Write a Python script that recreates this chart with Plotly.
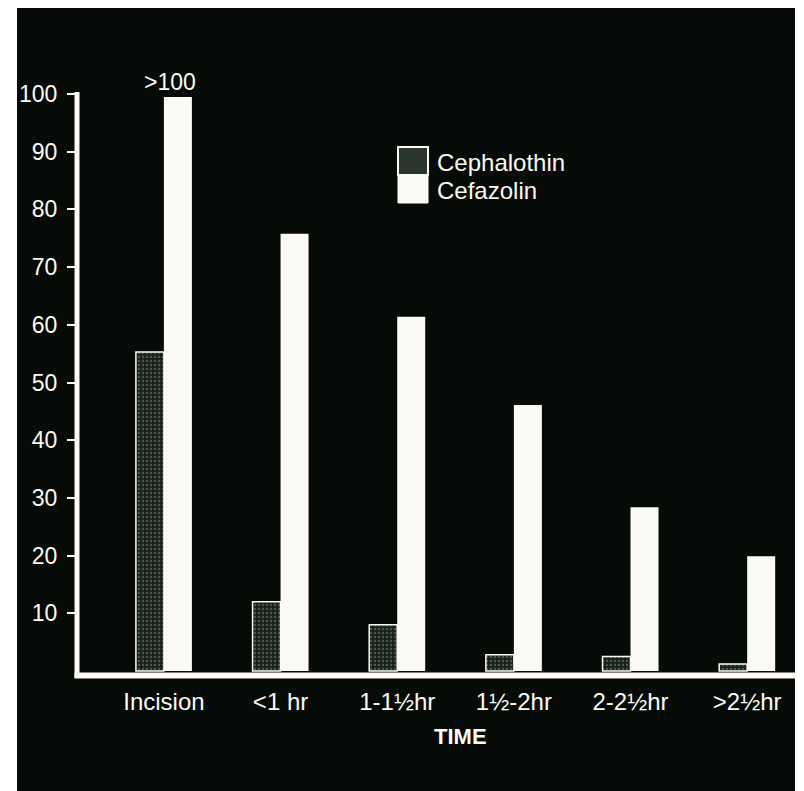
import plotly.graph_objects as go

categories = ["Incision", "<1 hr", "1-1½hr", "1½-2hr", "2-2½hr", ">2½hr"]
tick_text = ["Incision", "&lt;1 hr", "1-1½hr", "1½-2hr", "2-2½hr", "&gt;2½hr"]
cephalothin = [55.3, 12.0, 8.0, 2.8, 2.5, 1.2]
cefazolin = [99.5, 75.8, 61.4, 46.1, 28.4, 19.9]
y_ticks = [10, 20, 30, 40, 50, 60, 70, 80, 90, 100]

W, H = 804, 791
L, R, T, B = 77, 9, 83, 118
PW, PH = W - L - R, H - T - B
BG = "#070b08"
WHITE = "#fbfaf4"
FONT = "Liberation Sans, Arial, Helvetica, sans-serif"

def px(xp):
    return (xp - L) / PW

def py(yp):
    return (H - B - yp) / PH

fig = go.Figure()
fig.add_trace(go.Bar(
    name="Cephalothin", x=categories, y=cephalothin,
    marker=dict(color="#16211a",
                pattern=dict(shape=".", size=4, solidity=0.3,
                             fgcolor="#7d8a80", bgcolor="#16211a"),
                line=dict(color=WHITE, width=1.5)),
    showlegend=False,
))
fig.add_trace(go.Bar(
    name="Cefazolin", x=categories, y=cefazolin,
    marker=dict(color=WHITE, line=dict(width=0)),
    showlegend=False,
))

shapes = [
    dict(type="rect", xref="paper", yref="paper", layer="below",
         x0=px(17), x1=px(800), y0=py(795), y1=py(8),
         fillcolor=BG, line=dict(width=0)),
    dict(type="line", xref="paper", yref="paper",
         x0=0, x1=0, y0=py(678), y1=py(92),
         line=dict(color=WHITE, width=5)),
    dict(type="line", xref="paper", yref="paper",
         x0=px(74.5), x1=px(800), y0=py(675.5), y1=py(675.5),
         line=dict(color=WHITE, width=6)),
    dict(type="rect", xref="paper", yref="paper",
         x0=px(398), x1=px(428), y0=py(175), y1=py(147),
         fillcolor="#2a352e", line=dict(color=WHITE, width=2)),
    dict(type="rect", xref="paper", yref="paper",
         x0=px(398), x1=px(428), y0=py(203), y1=py(175),
         fillcolor=WHITE, line=dict(color=WHITE, width=1)),
    dict(type="rect", xref="paper", yref="paper", layer="above",
         x0=px(795), x1=px(806), y0=py(795), y1=py(-2),
         fillcolor="white", line=dict(width=0)),
]

annotations = [
    dict(text="&gt;100", xref="paper", yref="paper", x=px(170), y=py(82),
         showarrow=False, font=dict(size=23, color=WHITE, family=FONT),
         xanchor="center", yanchor="middle"),
    dict(text="Cephalothin", xref="paper", yref="paper", x=px(435), y=py(162),
         showarrow=False, font=dict(size=24, color=WHITE, family=FONT),
         xanchor="left", yanchor="middle"),
    dict(text="Cefazolin", xref="paper", yref="paper", x=px(435), y=py(190),
         showarrow=False, font=dict(size=24, color=WHITE, family=FONT),
         xanchor="left", yanchor="middle"),
    dict(text="<b>TIME</b>", xref="paper", yref="paper", x=px(460), y=py(736),
         showarrow=False, font=dict(size=22, color=WHITE, family=FONT),
         xanchor="center", yanchor="middle"),
]

zero_px, scale = 671.0, 5.77
ymin = -(H - B - zero_px) / scale
ymax = (zero_px - T) / scale

fig.update_layout(
    width=W, height=H,
    margin=dict(l=L, r=R, t=T, b=B, pad=0),
    paper_bgcolor="white",
    plot_bgcolor=BG,
    barmode="group",
    bargap=0.52,
    bargroupgap=0,
    font=dict(family=FONT, color=WHITE),
    shapes=shapes,
    annotations=annotations,
    xaxis=dict(
        type="category",
        range=[-0.745, 5.41],
        tickvals=categories, ticktext=tick_text,
        tickfont=dict(size=24, color=WHITE, family=FONT),
        showgrid=False, zeroline=False, showline=False,
        ticks="", ticklabelstandoff=12,
    ),
    yaxis=dict(
        range=[ymin, ymax],
        tickvals=y_ticks,
        tickfont=dict(size=23, color=WHITE, family=FONT),
        showgrid=False, zeroline=False, showline=False,
        ticks="outside", ticklen=9, tickwidth=2, tickcolor=WHITE,
        ticklabelstandoff=5,
    ),
)

fig.write_html("out.html")
